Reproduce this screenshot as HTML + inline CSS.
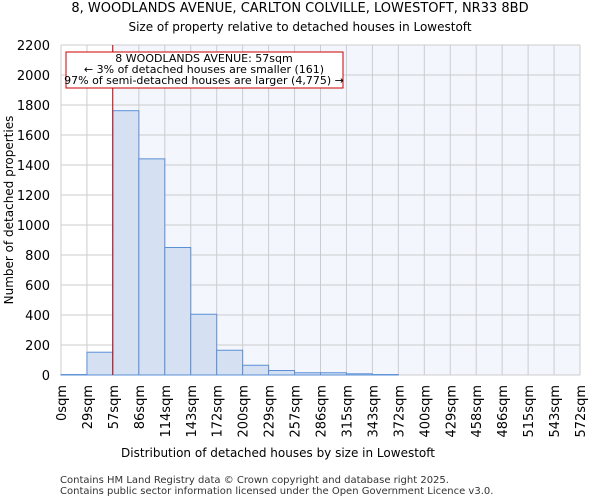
<!DOCTYPE html>
<html><head><meta charset="utf-8"><style>
body{margin:0;background:#fff;font-family:"DejaVu Sans","Liberation Sans",sans-serif;}
</style></head><body>
<svg id="c" width="600" height="500" xmlns="http://www.w3.org/2000/svg" font-family="DejaVu Sans, Liberation Sans, sans-serif">
<text x="300" y="12" text-anchor="middle" font-size="13">8, WOODLANDS AVENUE, CARLTON COLVILLE, LOWESTOFT, NR33 8BD</text>
<text x="300" y="31" text-anchor="middle" font-size="12">Size of property relative to detached houses in Lowestoft</text>
<g id="plot"></g>
<text x="278" y="457" text-anchor="middle" font-size="12">Distribution of detached houses by size in Lowestoft</text>
<text transform="translate(13,210) rotate(-90)" text-anchor="middle" font-size="12">Number of detached properties</text>
<text x="60" y="483" font-size="10" fill="#333">Contains HM Land Registry data © Crown copyright and database right 2025.</text>
<text x="60" y="494" font-size="10" fill="#333">Contains public sector information licensed under the Open Government Licence v3.0.</text>
</svg>
<script>
const binLabels=["0sqm","29sqm","57sqm","86sqm","114sqm","143sqm","172sqm","200sqm","229sqm","257sqm","286sqm","315sqm","343sqm","372sqm","400sqm","429sqm","458sqm","486sqm","515sqm","543sqm","572sqm"];
const counts=[3,152,1762,1441,850,405,165,65,30,15,15,8,3,0,0,0,0,0,0,0];
const yTicks=[0,200,400,600,800,1000,1200,1400,1600,1800,2000,2200];
const markerValue=57;
const NS="http://www.w3.org/2000/svg";
const L=61,R=580,T=45,B=375,binW=28.6,yMax=2200;
const n=counts.length;
const xs=i=>L+(R-L)*i/n;
const xv=v=>L+(R-L)*(v/binW)/n;
const y=v=>B-(B-T)*v/yMax;
const g=document.getElementById('plot');
function el(t,a){const e=document.createElementNS(NS,t);for(const k in a)e.setAttribute(k,a[k]);g.appendChild(e);return e;}
const mx=xv(markerValue);
const bgL=el('rect',{x:L,y:T,width:mx-L,height:B-T,fill:'#ffffff'});


const bgR=el('rect',{x:mx,y:T,width:R-mx,height:B-T,fill:'#f3f6fd'});


yTicks.forEach(t=>{
 const gl=el('line',{x1:L,x2:R,y1:y(t),y2:y(t),stroke:'#cccccc','stroke-width':1});
 
 
 const tx=el('text',{x:L-11,y:y(t)+5,'text-anchor':'end','font-size':13});
 tx.textContent=t;
 
 
});
binLabels.forEach((lb,i)=>{
 const gl=el('line',{x1:xs(i),x2:xs(i),y1:T,y2:B,stroke:'#cccccc','stroke-width':1});
 
 
 const tx=el('text',{x:0,y:0,'text-anchor':'end','font-size':13,transform:`translate(${xs(i)+5},${B+10}) rotate(-90)`});
 tx.textContent=lb;
 
 
});
counts.forEach((c,i)=>{
 const r=el('rect',{x:xs(i),y:y(c),width:xs(i+1)-xs(i),height:B-y(c),fill:'#d6e0f3',stroke:'#5b8fd6','stroke-width':1});
 
 
});
const ml=el('line',{x1:mx,x2:mx,y1:T,y2:B,stroke:'#cc0000','stroke-width':1});


const ab=el('rect',{x:66,y:52,width:277,height:36,fill:'#fff',stroke:'#cc0000','stroke-width':1});


["8 WOODLANDS AVENUE: 57sqm","← 3% of detached houses are smaller (161)","97% of semi-detached houses are larger (4,775) →"].forEach((s,i)=>{
 const t=el('text',{x:204,y:62+i*11,'text-anchor':'middle','font-size':11});
 t.textContent=s;
 
 
});
</script>
</body></html>
